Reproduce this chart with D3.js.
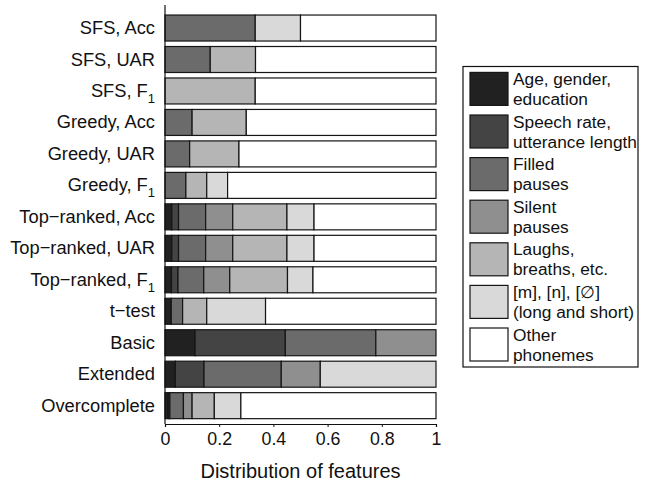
<!DOCTYPE html>
<html>
<head>
<meta charset="utf-8">
<script src="https://cdn.jsdelivr.net/npm/d3@7"></script>
<style>
  body { margin: 0; background: #fff; }
  svg text { font-family: "Liberation Sans", Arial, sans-serif; fill: #111; }
</style>
</head>
<body>
<div class="chart-wrapper"></div>
<script>
// methods (rows, top to bottom); "_1" marks an F subscript
const methods = ['SFS, Acc', 'SFS, UAR', 'SFS, F_1', 'Greedy, Acc', 'Greedy, UAR', 'Greedy, F_1',
  'Top\u2212ranked, Acc', 'Top\u2212ranked, UAR', 'Top\u2212ranked, F_1', 't\u2212test', 'Basic', 'Extended', 'Overcomplete']

const groups = ['Age, gender,|education', 'Speech rate,|utterance length', 'Filled|pauses', 'Silent|pauses',
  'Laughs,|breaths, etc.', '[m], [n], [\u2205]|(long and short)', 'Other|phonemes']

// share of each feature group per method
const ageGender   = [0,     0,     0,     0,    0,     0,     0.025, 0.025, 0.024, 0.023, 0.111, 0.038, 0.012]
const speechRate  = [0,     0,     0,     0,    0,     0,     0.025, 0.025, 0.024, 0,     0.333, 0.106, 0.006]
const filledPause = [0.333, 0.167, 0,     0.10, 0.091, 0.077, 0.10,  0.10,  0.095, 0.042, 0.334, 0.285, 0.050]
const silentPause = [0,     0,     0,     0,    0,     0,     0.10,  0.10,  0.096, 0,     0.222, 0.144, 0.032]
const laughs      = [0,     0.167, 0.333, 0.20, 0.182, 0.077, 0.20,  0.20,  0.213, 0.089, 0,     0,     0.082]
const nasals      = [0.167, 0,     0,     0,    0,     0.077, 0.10,  0.10,  0.094, 0.217, 0,     0.427, 0.098]
const otherPhon   = [0.50,  0.666, 0.667, 0.70, 0.727, 0.769, 0.45,  0.45,  0.454, 0.629, 0,     0,     0.720]

const series = [ageGender, speechRate, filledPause, silentPause, laughs, nasals, otherPhon]
const colors = ['#212121', '#444444', '#6b6b6b', '#8f8f8f', '#b5b5b5', '#d9d9d9', '#ffffff']
const xTicks = [0, 0.2, 0.4, 0.6, 0.8, 1]

const width = 646, height = 486
const margin = {top: 12.3, left: 165, right: 210, bottom: 64.6}

let x = d3.scaleLinear().domain([0, 1]).range([margin.left, width - margin.right])
let y = d3.scaleBand().domain(methods)
  .range([margin.top, height - margin.bottom])
  .paddingInner(0.174).paddingOuter(0.087)

let svg = d3.select('.chart-wrapper').append('svg')
  .attr('width', width).attr('height', height)

// stacked segments
const rows = methods.map((m, i) => {
  let acc = 0
  return series.map((s, k) => {
    const seg = {method: m, k: k, x0: acc, x1: acc + s[i]}
    acc += s[i]
    return seg
  }).filter(d => d.x1 - d.x0 > 0)
})

let barsGroup = svg.append('g')
barsGroup.selectAll('g').data(rows).join('g')
  .selectAll('rect').data(d => d).join('rect')
  .attr('x', d => x(d.x0))
  .attr('y', d => y(d.method))
  .attr('width', d => x(Math.min(d.x1, 1)) - x(d.x0))
  .attr('height', y.bandwidth())
  .attr('fill', d => colors[d.k])
  .attr('stroke', '#151515')
  .attr('stroke-width', 1.2)

// y axis line + labels
const axisY = 424
svg.append('line')
  .attr('x1', x(0)).attr('x2', x(0))
  .attr('y1', 5).attr('y2', axisY)
  .attr('stroke', '#111').attr('stroke-width', 1.2)

let labels = svg.append('g').selectAll('text').data(methods).join('text')
  .attr('x', x(0) - 10)
  .attr('y', d => y(d) + y.bandwidth() / 2 + 6)
  .attr('text-anchor', 'end')
  .style('font-size', '18.3px')

labels.each(function(d) {
  const t = d3.select(this)
  if (d.endsWith('_1')) {
    t.append('tspan').text(d.replace('_1', ''))
    t.append('tspan').text('1').attr('dy', 6).style('font-size', '13px')
  } else {
    t.text(d)
  }
})

// x axis
let xaxis = svg.append('g')
  .attr('transform', 'translate(0,' + axisY + ')')
  .call(d3.axisBottom(x).tickValues(xTicks).tickFormat(d3.format('')).tickSize(3).tickPadding(5))

xaxis.select('.domain').attr('stroke', '#111').attr('stroke-width', 1.2)
xaxis.selectAll('.tick line').attr('stroke', '#111')
xaxis.selectAll('.tick text').style('font-size', '17.8px').attr('fill', '#111')

svg.append('text')
  .attr('x', (x(0) + x(1)) / 2)
  .attr('y', 478)
  .attr('text-anchor', 'middle')
  .style('font-size', '20px')
  .text('Distribution of features')

// legend
const lg = {x: 463, y: 66.5, w: 175, h: 300.5, step: 42.6}
let legend = svg.append('g')
legend.append('rect')
  .attr('x', lg.x).attr('y', lg.y).attr('width', lg.w).attr('height', lg.h)
  .attr('fill', '#fff').attr('stroke', '#111').attr('stroke-width', 1.2)

let items = legend.selectAll('g.item').data(groups).join('g')
  .attr('class', 'item')
  .attr('transform', (d, i) => 'translate(' + (lg.x + 7) + ',' + (lg.y + 22.4 + i * lg.step) + ')')

items.append('rect')
  .attr('x', 0).attr('y', -16.5).attr('width', 38).attr('height', 33)
  .attr('fill', (d, i) => colors[i])
  .attr('stroke', '#151515').attr('stroke-width', 1.2)

items.append('text')
  .attr('x', 43)
  .style('font-size', '17.3px')
  .selectAll('tspan').data(d => d.split('|')).join('tspan')
  .attr('x', 43)
  .attr('y', (d, j) => j === 0 ? -4 : 16)
  .text(d => d)
</script>
</body>
</html>
